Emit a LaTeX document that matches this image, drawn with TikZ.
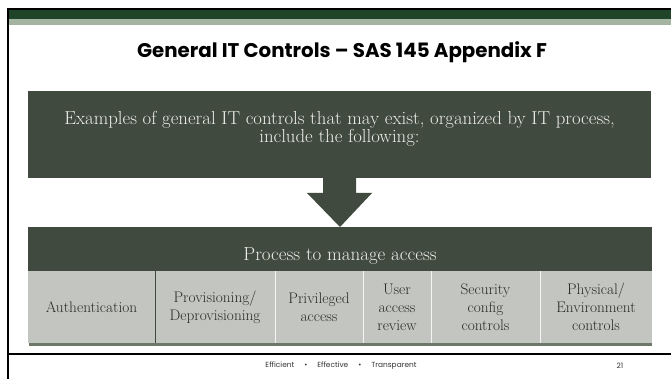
\documentclass[tikz,border=0pt]{standalone}
\usepackage{fontspec}
\newfontfamily\titlefont{Poppins}
\newfontfamily\footfont{Poppins}
\usetikzlibrary{calc}
\definecolor{darkbox}{HTML}{404A3E}
\definecolor{cellgray}{HTML}{C3C5C0}
\definecolor{topgreen}{HTML}{1F4427}
\definecolor{topband}{HTML}{A4B4A1}
\definecolor{hdrtext}{HTML}{EEEEE8}
\definecolor{celltext}{HTML}{2A2A2A}
\definecolor{shadowline}{HTML}{6E786A}
\tikzset{
  darkrect/.style={fill=darkbox, draw=none, inner sep=0pt, outer sep=0pt},
  cellbox/.style={fill=cellgray, draw=none, inner sep=0pt, outer sep=0pt,
    minimum height=72pt, text=celltext, align=center,
    font=\fontsize{15.3}{18}\selectfont},
  seplight/.style={draw=white!85!cellgray, line width=0.8pt},
  sepdark/.style={draw=darkbox, line width=0.8pt},
}
\begin{document}
\begin{tikzpicture}[x=1pt,y=-1pt]
\useasboundingbox (0,0) rectangle (671,379);
\fill[white] (0,0) rectangle (671,379);
% top bands
\fill[black] (7,8) rectangle (671,10);
\fill[topgreen] (7,10) rectangle (671,19);
\fill[topband] (7,19) rectangle (671,25.5);
\fill[black] (6.5,8) rectangle (9,379);
\fill[black] (7,353.3) rectangle (671,355);
% title
\node (title) at (342,52) {\titlefont\bfseries\fontsize{19.8}{23}\selectfont General IT Controls – SAS 145 Appendix F};
% examples box
\node (ex) [darkrect, minimum width=623pt, minimum height=87pt] at (339.5,134.5) {};
\node (extext) [text=hdrtext, align=center, font=\fontsize{18.8}{18}\selectfont] at (339.5,129)
  {Examples of general IT controls that may exist, organized by IT process,\\include the following:};
% header box
\node (hdr) [darkrect, minimum width=624pt, minimum height=44pt] at (340,249) {};
\node (hdrtext) [text=hdrtext, font=\fontsize{19}{22}\selectfont] at (340,256) {Process to manage access};
% block arrow
\fill[darkbox] ($(ex.south)+(-16.5,0)$) -- ($(ex.south)+(16.5,0)$) -- ($(ex.south)+(16.5,15)$)
  -- ($(ex.south)+(32.5,15)$) -- (hdr.north) -- ($(ex.south)+(-32.5,15)$) -- ($(ex.south)+(-16.5,15)$) -- cycle;
% shadow under cells
\fill[shadowline] (29,343) rectangle (652,345.5);
% cells
\node (c1) [cellbox, minimum width=127pt] at (91.5,307) {Authentication};
\node (c2) [cellbox, minimum width=120pt] at (215,307) {Provisioning/\\Deprovisioning};
\node (c3) [cellbox, minimum width=88pt] at (319,307) {Privileged\\access};
\node (c4) [cellbox, minimum width=68pt] at (397,307) {User\\access\\review};
\node (c5) [cellbox, minimum width=109pt] at (485.5,307) {Security\\config\\controls};
\node (c6) [cellbox, minimum width=112pt] at (596,307) {Physical/\\Environment\\controls};
\draw[sepdark] (c1.north east) -- (c1.south east);
\draw[seplight] (c2.north east) -- (c2.south east);
\draw[seplight] (c3.north east) -- (c3.south east);
\draw[seplight] (c4.north east) -- (c4.south east);
\draw[seplight] (c5.north east) -- (c5.south east);
% footer
\node (foot) [text=black!80, font=\footfont\fontsize{7.4}{8}\selectfont] at (341,366)
  {Efficient\hspace{10pt}•\hspace{10pt}Effective\hspace{10pt}•\hspace{10pt}Transparent};
\node (page) [text=black!80, font=\footfont\fontsize{7.4}{8}\selectfont] at (620,366) {21};
\end{tikzpicture}
\end{document}
